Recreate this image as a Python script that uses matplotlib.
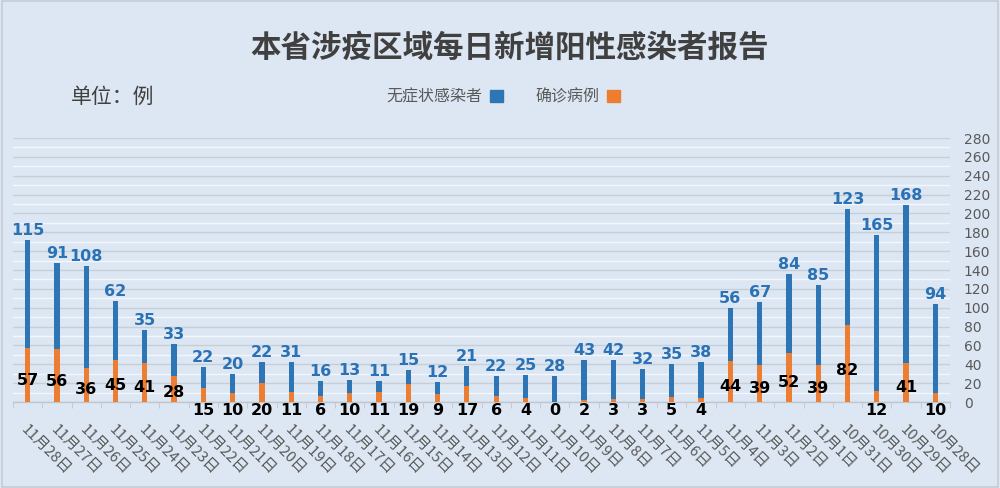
import matplotlib
matplotlib.use("Agg")
import matplotlib.pyplot as plt
from matplotlib.patches import Patch, Rectangle
from matplotlib.transforms import ScaledTranslation
import numpy as np

plt.rcParams['font.family'] = ['Noto Sans CJK SC', 'DejaVu Sans']

dates = ["11月28日", "11月27日", "11月26日", "11月25日", "11月24日", "11月23日",
         "11月22日", "11月21日", "11月20日", "11月19日", "11月18日", "11月17日",
         "11月16日", "11月15日", "11月14日", "11月13日", "11月12日", "11月11日",
         "11月10日", "11月9日", "11月8日", "11月7日", "11月6日", "11月5日",
         "11月4日", "11月3日", "11月2日", "11月1日", "10月31日", "10月30日",
         "10月29日", "10月28日"]
confirmed = [57, 56, 36, 45, 41, 28, 15, 10, 20, 11, 6, 10, 11, 19, 9, 17, 6, 4,
             0, 2, 3, 3, 5, 4, 44, 39, 52, 39, 82, 12, 41, 10]
asymptomatic = [115, 91, 108, 62, 35, 33, 22, 20, 22, 31, 16, 13, 11, 15, 12, 21,
                22, 25, 28, 43, 42, 32, 35, 38, 56, 67, 84, 85, 123, 165, 168, 94]
yticks = list(range(0, 281, 20))

title = "本省涉疫区域每日新增阳性感染者报告"
unit = "单位：例"
leg_confirmed = "确诊病例"
leg_asym = "无症状感染者"

BG = '#dde7f3'
BLUE = '#2e75b6'
ORANGE = '#ed7d31'
LBLUE = '#2a72b5'

fig = plt.figure(figsize=(10, 4.88), dpi=100, facecolor=BG)
fig.patches.append(Rectangle((0.002, 0.003), 0.996, 0.994, transform=fig.transFigure,
                             fill=False, edgecolor='#c5ccd5', linewidth=1.2))
ax = fig.add_axes([0.013, 0.1762, 0.937, 0.541])
ax.set_facecolor(BG)

x = np.arange(len(dates))
conf = np.array(confirmed)
asym = np.array(asymptomatic)
w = 0.18
ax.bar(x, conf, width=w, color=ORANGE, zorder=3)
ax.bar(x, asym, width=w, bottom=conf, color=BLUE, zorder=3)

# value labels
for xi, c, a in zip(x, conf, asym):
    ax.annotate(str(a), (xi, c + a), xytext=(0, 1.5), textcoords='offset points',
                ha='center', va='bottom', fontsize=11.5, fontweight='bold',
                color=LBLUE, family=['DejaVu Sans'], zorder=5)
    ly = -9 if c <= 20 else c * 0.45 - 3
    ax.text(xi, ly, str(c), ha='center', va='center', fontsize=11.5,
            fontweight='bold', color='black', family=['DejaVu Sans'],
            zorder=5, clip_on=False)

ax.set_xlim(-0.5, len(dates) - 0.5)
ax.set_ylim(0, 280)

# gridlines
ax.set_yticks(yticks)
ax.set_yticks(np.arange(10, 280, 20), minor=True)
ax.grid(axis='y', which='major', color='#c8ced6', linewidth=1.0, zorder=0)
ax.grid(axis='y', which='minor', color='#f3f7fb', linewidth=1.0, zorder=0)
ax.grid(axis='x', visible=False)

ax.yaxis.tick_right()
ax.tick_params(axis='y', which='both', length=0, pad=10, labelsize=10,
               labelcolor='#595959')
ax.set_yticklabels([str(v) for v in yticks], family=['DejaVu Sans'])

ax.set_xticks(x)
ax.set_xticklabels(dates, rotation=-45, ha='left', va='top',
                   rotation_mode='anchor', fontsize=10.8, color='#595959')
ax.tick_params(axis='x', length=0, pad=15)
offset = ScaledTranslation(1 / 100, 0, fig.dpi_scale_trans)
for lbl in ax.get_xticklabels():
    lbl.set_transform(lbl.get_transform() + offset)
# category separator ticks
ax.set_xticks(np.arange(-0.5, len(dates), 1), minor=True)
ax.tick_params(axis='x', which='minor', length=4, color='#c0c6ce', direction='out')

for s in ['top', 'left', 'right']:
    ax.spines[s].set_visible(False)
ax.spines['bottom'].set_color('#c0c6ce')
ax.spines['bottom'].set_linewidth(1.0)

fig.text(0.51, 0.902, title, ha='center', va='center', fontsize=22,
         fontweight='bold', color='#404040')
fig.text(0.113, 0.801, unit, ha='center', va='center', fontsize=15,
         color='#404040')

handles = [Patch(facecolor=BLUE, edgecolor=BLUE), Patch(facecolor=ORANGE, edgecolor=ORANGE)]
fig.legend(handles, [leg_asym, leg_confirmed], loc='center', bbox_to_anchor=(0.503, 0.801),
           ncol=2, frameon=False, markerfirst=False, fontsize=11.5,
           labelcolor='#595959', handlelength=0.8, handleheight=0.8,
           columnspacing=2.0, handletextpad=0.5)

fig.savefig('out.png', dpi=100, facecolor=BG)
